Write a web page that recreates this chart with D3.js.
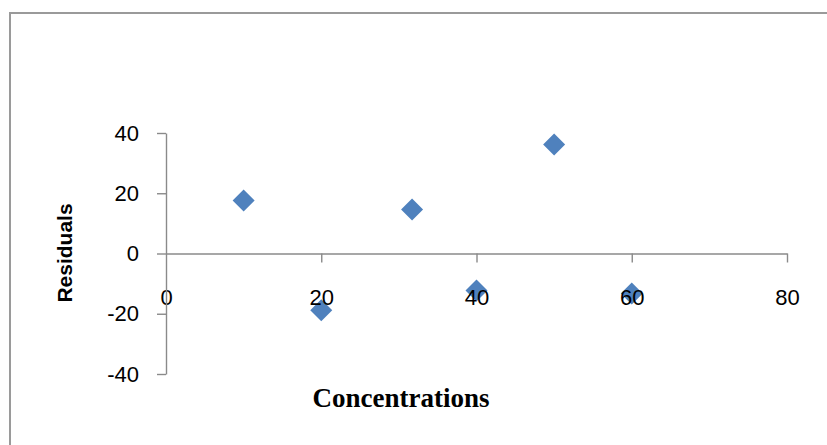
<!DOCTYPE html>
<html>
<head>
<meta charset="utf-8">
<script src="https://cdn.jsdelivr.net/npm/d3@7"></script>
<style>
  html, body { margin: 0; padding: 0; background: #fff; }
  svg { display: block; }
</style>
</head>
<body>
<script>
// ---- data ----
const concentrations = [10, 20, 31.7, 40, 50, 60];
const residuals = [17.6, -18.8, 14.6, -12.3, 36.2, -13.3];
const xTicks = [0, 20, 40, 60, 80];
const yTicks = [-40, -20, 0, 20, 40];
const xTitle = "Concentrations";
const yTitle = "Residuals";

const W = 827, H = 445;
const svg = d3.select("body").append("svg").attr("width", W).attr("height", H);

// chart area frame (extends past right / bottom edges)
svg.append("path")
  .attr("d", `M10,${H + 5} L10,13 L${W + 5},13`)
  .attr("fill", "none").attr("stroke", "#9a9a9a").attr("stroke-width", 2);

const x = d3.scaleLinear().domain([0, 80]).range([166, 787]);
const y = d3.scaleLinear().domain([-40, 40]).range([374, 133]);

const pts = concentrations.map((c, i) => ({ x: c, y: residuals[i] }));

// points (drawn first so tick labels sit on top, as in the reference)
svg.append("g").selectAll("path").data(pts).join("path")
  .attr("d", d3.symbol(d3.symbolSquare, 242)())
  .attr("transform", d => `translate(${x(d.x)},${y(d.y)}) rotate(45)`)
  .attr("fill", "#4F81BD");

const axisColor = "#8a8a8a";
const fontTick = "'Liberation Sans', Arial, sans-serif";
const fmt = d => String(d);

// x axis at y = 0
const gx = svg.append("g").attr("transform", `translate(0,${y(0)})`)
  .call(d3.axisBottom(x).tickValues(xTicks).tickSize(9).tickSizeOuter(0).tickPadding(27).tickFormat(fmt));
// y axis
const gy = svg.append("g").attr("transform", `translate(${x(0)},0)`)
  .call(d3.axisLeft(y).tickValues(yTicks).tickSize(9).tickSizeOuter(0).tickPadding(18).tickFormat(fmt));

[gx, gy].forEach(g => {
  g.selectAll(".domain").attr("stroke", axisColor).attr("stroke-width", 1.4);
  g.selectAll(".tick line").attr("stroke", axisColor).attr("stroke-width", 1.4);
  g.selectAll(".tick text").attr("fill", "#000").style("font-family", fontTick).style("font-size", "22px");
});
gx.selectAll(".tick").filter(d => d === 0).select("line").remove();

// axis titles
svg.append("text")
  .attr("x", 401).attr("y", 407)
  .attr("text-anchor", "middle")
  .style("font-family", "'Liberation Serif', 'Times New Roman', serif")
  .style("font-weight", "bold").style("font-size", "27px")
  .attr("fill", "#000")
  .text(xTitle);

svg.append("text")
  .attr("transform", `translate(72,253) rotate(-90)`)
  .attr("text-anchor", "middle")
  .style("font-family", fontTick)
  .style("font-weight", "bold").style("font-size", "21px")
  .attr("fill", "#000")
  .text(yTitle);
</script>
</body>
</html>
